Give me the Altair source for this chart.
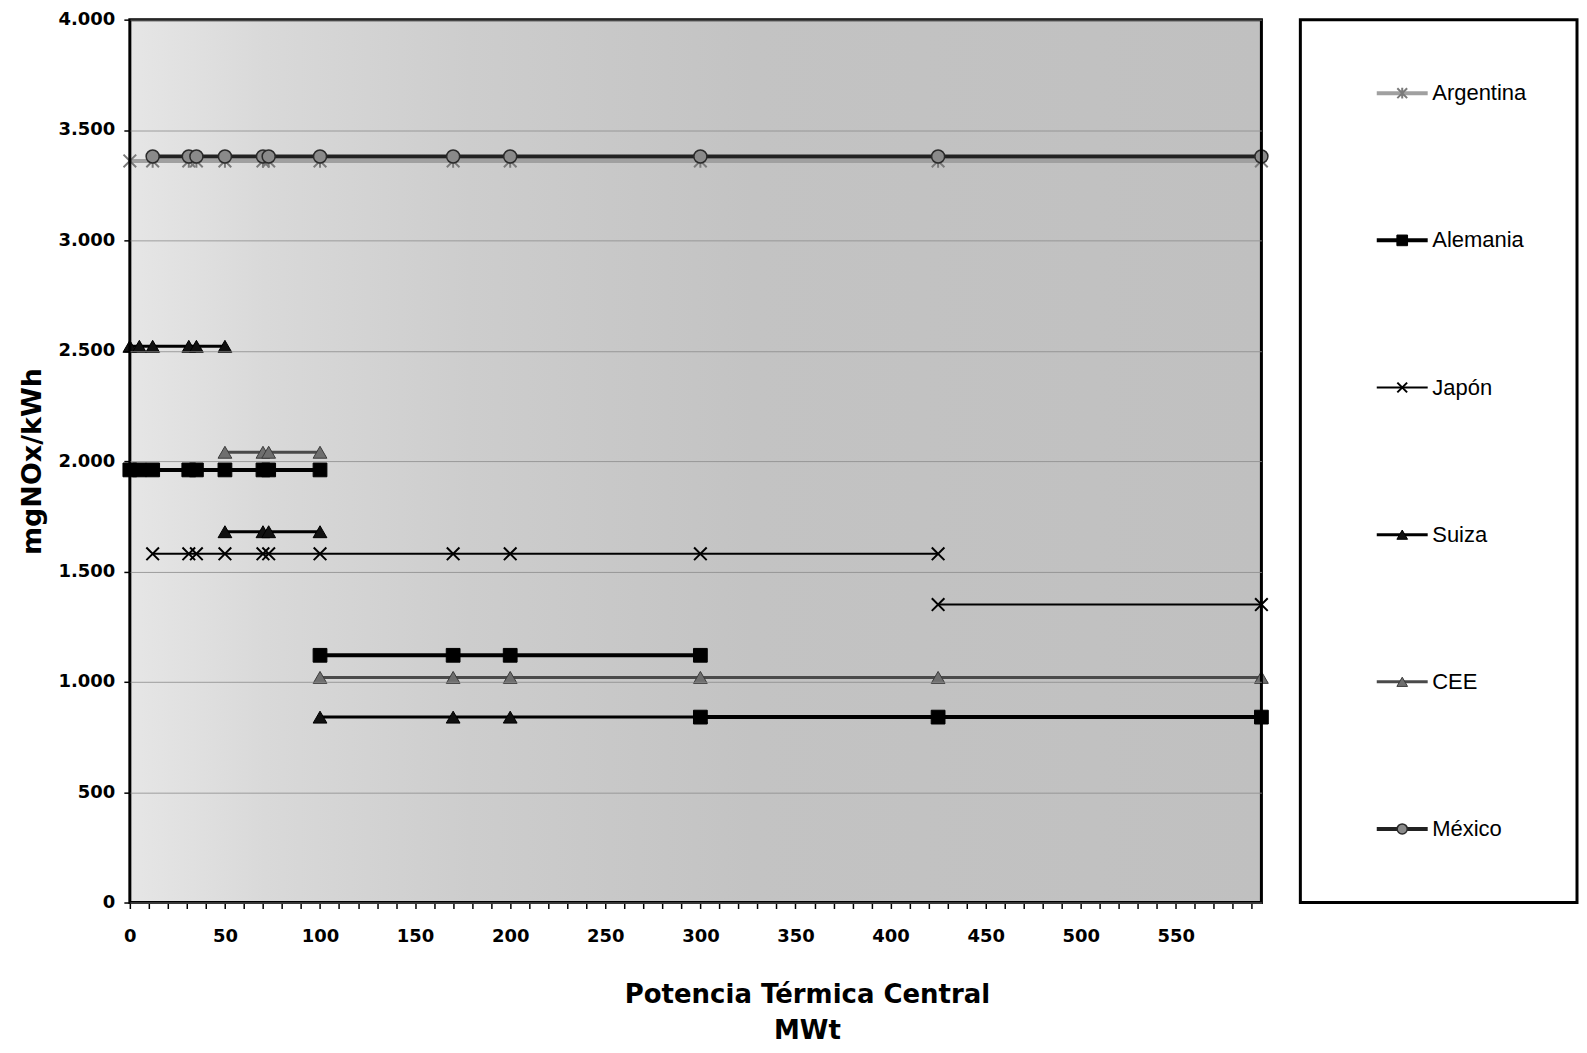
import altair as alt
import pandas as pd

# ---------------- data ----------------
countries = ["Argentina", "Alemania", "Japón", "Suiza", "CEE", "México"]

argentina_y = [3360]
argentina_x = [[0, 12, 31, 35, 50, 70, 73, 100, 170, 200, 300, 425, 595]]

mexico_y = [3380]
mexico_x = [[12, 31, 35, 50, 70, 73, 100, 170, 200, 300, 425, 595]]

alemania_y = [1960, 1120, 840]
alemania_x = [[0, 5, 12, 31, 35, 50, 70, 73, 100],
              [100, 170, 200, 300],
              [300, 425, 595]]

japon_y = [1580, 1350]
japon_x = [[12, 31, 35, 50, 70, 73, 100, 170, 200, 300, 425],
           [425, 595]]

suiza_y = [2520, 1680, 840]
suiza_x = [[0, 5, 12, 31, 35, 50],
           [50, 70, 73, 100],
           [100, 170, 200, 300]]

cee_y = [2040, 1020]
cee_x = [[50, 70, 73, 100],
         [100, 170, 200, 300, 425, 595]]

series = {
    "Argentina": (argentina_y, argentina_x),
    "México": (mexico_y, mexico_x),
    "Alemania": (alemania_y, alemania_x),
    "Japón": (japon_y, japon_x),
    "Suiza": (suiza_y, suiza_x),
    "CEE": (cee_y, cee_x),
}

rows = []
for c, (ys_, xs_) in series.items():
    for i, (yv, xl) in enumerate(zip(ys_, xs_)):
        for xv in xl:
            rows.append({"country": c, "seg": f"{c}-{i}", "x": xv, "y": yv})
df = pd.DataFrame(rows)

# ---------------- styles ----------------
XPATH = "M-1,-1L1,1M-1,1L1,-1"
ASTER = "M-1,-1L1,1M-1,1L1,-1M0,-1.1L0,1.1"
style = {
    "Argentina": dict(line="#a0a0a0", lw=4, shape=ASTER, filled=False, fill="none", stroke="#7a7a7a", size=160, sw=2),
    "Japón": dict(line="#000000", lw=2, shape=XPATH, filled=False, fill="none", stroke="#000000", size=160, sw=2),
    "Suiza": dict(line="#000000", lw=3, shape="triangle-up", filled=True, fill="#111111", stroke="#000000", size=190, sw=1),
    "CEE": dict(line="#4a4a4a", lw=3, shape="triangle-up", filled=True, fill="#6e6e6e", stroke="#3a3a3a", size=190, sw=1),
    "Alemania": dict(line="#000000", lw=4, shape="square", filled=True, fill="#000000", stroke="#000000", size=190, sw=1),
    "México": dict(line="#222222", lw=4, shape="circle", filled=True, fill="#8a8a8a", stroke="#2a2a2a", size=170, sw=1.5),
}
draw_order = ["Argentina", "Japón", "Suiza", "CEE", "Alemania", "México"]

FONT = "Liberation Sans"
BFONT = "DejaVu Sans"

def layers_for(line_df, pt_df, xenc, yenc, msize=1.0):
    out = []
    for c in draw_order:
        s = style[c]
        ld = line_df[line_df["country"] == c]
        pdf = pt_df[pt_df["country"] == c]
        out.append(
            alt.Chart(ld).mark_line(color=s["line"], strokeWidth=s["lw"]).encode(
                x=xenc, y=yenc, detail="seg:N")
        )
        out.append(
            alt.Chart(pdf).mark_point(
                shape=s["shape"], filled=s["filled"], fill=s["fill"], stroke=s["stroke"],
                size=s["size"] * msize, strokeWidth=s["sw"], opacity=1
            ).encode(x=xenc, y=yenc)
        )
    return out

# ---------------- main panel ----------------
W, H = 1133, 884
xscale = alt.Scale(domain=[0, 595], nice=False, zero=False)
yscale = alt.Scale(domain=[0, 4000], nice=False)
xaxis = alt.Axis(
    values=list(range(0, 600, 10)),
    labelExpr="datum.value % 50 === 0 ? datum.value : ''",
    grid=False, domain=False, tickColor="black", tickSize=6, tickWidth=1.5,
    labelFont=BFONT, labelFontWeight="bold", labelFontSize=18, labelColor="black",
    labelPadding=19, labelOverlap=False, labelFlush=False,
    titleFont=BFONT, titleFontWeight="bold", titleFontSize=26, titleColor="black",
    titlePadding=36, titleLineHeight=36, titleX=678,
)
yaxis = alt.Axis(
    values=list(range(0, 4001, 500)),
    labelExpr="replace(format(datum.value, ','), ',', '.')",
    grid=True, gridColor="#8c8c8c", gridWidth=0.8, domain=False,
    tickColor="black", tickSize=6, tickWidth=1.5,
    labelFont=BFONT, labelFontWeight="bold", labelFontSize=18, labelColor="black",
    labelPadding=9,
    titleFont=BFONT, titleFontWeight="bold", titleFontSize=27, titleColor="black",
    titlePadding=12, zindex=1,
)
xtitle = ["Potencia  Térmica Central", "MWt"]
ytitle = "mgNOx/kWh"

xenc = alt.X("x:Q", scale=xscale, axis=xaxis, title=xtitle)
yenc = alt.Y("y:Q", scale=yscale, axis=yaxis, title=ytitle)

gradient = {
    "gradient": "linear", "x1": 0, "x2": 1, "y1": 0, "y2": 0,
    "stops": [
        {"offset": 0.0, "color": "#e6e6e6"},
        {"offset": 0.12, "color": "#d9d9d9"},
        {"offset": 0.3, "color": "#cdcdcd"},
        {"offset": 0.55, "color": "#c3c3c3"},
        {"offset": 1.0, "color": "#c0c0c0"},
    ],
}
frame_base = alt.Chart(pd.DataFrame({"k": [0]})).encode(
    x=alt.XDatum(0, type="quantitative", scale=xscale, axis=xaxis, title=xtitle),
    x2=alt.X2Datum(595),
    y=alt.YDatum(0, type="quantitative", scale=yscale, axis=yaxis, title=ytitle),
    y2=alt.Y2Datum(4000),
)
bg = frame_base.mark_rect(color=gradient)
frame = frame_base.mark_rect(fillOpacity=0, stroke="black", strokeWidth=3)

main = alt.layer(bg, *layers_for(df, df, xenc, yenc), frame).properties(width=W, height=H)

# ---------------- legend panel ----------------
LW = 277
unit = 51.0
leg_line_rows, leg_pt_rows = [], []
for c in countries:
    leg_line_rows.append({"country": c, "seg": c, "x": 1.5})
    leg_line_rows.append({"country": c, "seg": c, "x": 2.5})
    leg_pt_rows.append({"country": c, "seg": c, "x": 2.0})
leg_line = pd.DataFrame(leg_line_rows)
leg_pt = pd.DataFrame(leg_pt_rows)
leg_txt = pd.DataFrame({"country": countries, "x": [2.55] * len(countries)})

lx = alt.X("x:Q", scale=alt.Scale(domain=[0, LW / unit], nice=False, zero=False), axis=None)
ly = alt.Y("country:N", scale=alt.Scale(type="point", domain=countries, padding=0.5), axis=None)

leg_text = alt.Chart(leg_txt).mark_text(
    align="left", baseline="middle", font=FONT, fontSize=22, color="black", dx=2
).encode(x=lx, y=ly, text="country:N")

legend = alt.layer(*layers_for(leg_line, leg_pt, lx, ly, msize=0.6), leg_text).properties(
    width=LW, height=H, view=alt.ViewBackground(fill="white", stroke="black", strokeWidth=3)
)

chart = alt.hconcat(main, legend, spacing=26).properties(
    padding={"left": 9, "top": 1, "right": 0, "bottom": 0}
).configure_view(stroke="black", strokeWidth=3).configure(background="white")

chart.save("out.html", embed_options={"renderer": "svg", "actions": False})
